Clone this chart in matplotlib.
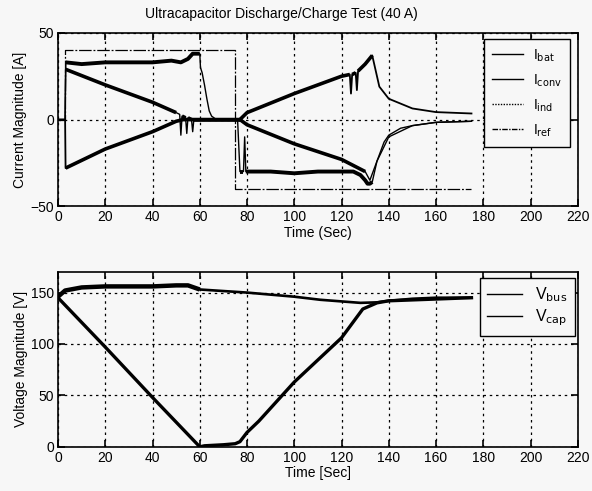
import matplotlib
matplotlib.use("Agg")
import matplotlib.pyplot as plt
import numpy as np

plt.rcParams['font.family'] = ['Liberation Sans', 'DejaVu Sans']

# ---- current test data ----
t_ref = [0, 3, 3, 75, 75, 175]
i_ref = [0, 0, 40, 40, -40, -40]

# converter current: the +/-33 A plateaus
t_conv = [0, 3, 3.3, 10, 20, 30, 40, 48, 52, 55, 57, 59, 60, 60.3, 61, 62, 63, 64, 65, 67,
          75, 76, 77, 78.5, 79, 79.5, 90, 100, 110, 120, 125, 128, 130, 131, 132, 133,
          135, 138, 140, 145, 150, 160, 175]
i_conv = [0, 0, 33, 32, 33, 33, 33, 34, 33, 35, 38, 38, 38, 30, 27, 20, 12, 5, 2, 0,
          0, 0, -30, -30, -10, -30, -30, -31, -30, -30, -30, -32, -35, -37, -37, -36,
          -24, -13, -9, -5, -3.5, -1.6, -1]

# battery current: falling ramp, then negative ramp while charging
t_bat = [0, 3, 3.2, 20, 40, 50, 51.5, 52, 52.5, 54, 54.5, 55, 56.5, 57, 57.5, 60,
         75, 77, 80, 100, 120, 130, 132, 135, 140, 150, 160, 175]
i_bat = [0, 0, 29, 20, 10, 4, 3, -9, 2, 1, -8, 1, 0, -7, 0, 0,
         0, 0, -3, -14, -23, -30, -35, -24, -10, -3.5, -1.6, -1]

# inductor current: rising ramp, then positive ramp while charging
t_ind = [0, 3, 3.2, 20, 40, 50, 53, 60, 75, 77, 80, 100, 120, 123.5, 124, 124.5,
         126, 126.5, 127, 130, 133, 136, 140, 150, 160, 175]
i_ind = [0, 0, -28, -17, -7, -1, 0, 0, 0, 0, 4, 15, 25, 26, 15, 26,
         27, 17, 28, 32, 37, 19, 12, 6.4, 4.3, 3.5]

# ---- voltage test data ----
t_bus = [0, 3, 10, 20, 30, 40, 50, 55, 60, 80, 100, 111, 128, 135, 140, 150, 160, 175]
v_bus = [146, 152, 155, 156, 156, 156, 157, 157, 153, 150, 146, 143, 140, 140.5, 142, 144, 145, 145]

t_cap = [0, 20, 40, 60, 62, 70, 75, 77, 80, 85, 100, 120, 129, 135, 140, 175]
v_cap = [145, 97, 48, 0, 1, 2, 3, 5, 14, 25, 63, 106, 134, 140, 142, 145]


def noisy(ax, t, y, windows, thick, thin=1.0, **kw):
    # thin trace everywhere, heavier over the noisy stretches
    t = np.asarray(t)
    y = np.asarray(y)
    line, = ax.plot(t, y, color='k', lw=thin, **kw)
    for a, b in windows:
        m = (t >= a) & (t <= b)
        ax.plot(t[m], y[m], color='k', lw=thick, solid_capstyle='butt')
    return line


bg = '#f7f7f7'
fig = plt.figure(figsize=(5.92, 4.91), dpi=100, facecolor=bg)

# top: currents
ax1 = fig.add_axes([0.098, 0.580, 0.878, 0.353], facecolor=bg)
noisy(ax1, t_bat, i_bat, [(3.2, 50), (52.5, 54), (55, 56.5), (57.5, 77), (77, 130)], 2.6,
      label=r'I$_{\mathrm{bat}}$')
noisy(ax1, t_conv, i_conv, [(3.3, 60), (77, 78.5), (79.5, 133)], 2.8,
      label=r'I$_{\mathrm{conv}}$')
noisy(ax1, t_ind, i_ind, [(3.2, 77), (77, 123.5), (124.5, 126), (127, 133)], 2.6,
      thin=1.3, label=r'I$_{\mathrm{ind}}$')
ax1.plot(t_ref, i_ref, color='k', lw=0.9, linestyle=(0, (10, 1.5, 1.5, 1.5)),
         label=r'I$_{\mathrm{ref}}$')
ax1.set_xlim(0, 220)
ax1.set_ylim(-50, 50)
ax1.set_xticks(range(0, 221, 20))
ax1.set_yticks([-50, 0, 50])
ax1.grid(True, color='k', linestyle=(0, (2, 3)), linewidth=0.9)
ax1.set_title('Ultracapacitor Discharge/Charge Test (40 A)', fontsize=10, pad=11, x=0.43)
ax1.set_xlabel('Time (Sec)', fontsize=10, labelpad=1)
ax1.set_ylabel('Current Magnitude [A]', fontsize=10, labelpad=2)
leg1 = ax1.legend(loc='upper right', bbox_to_anchor=(0.985, 0.965), borderaxespad=0,
                  fontsize=10, labelspacing=0.62, handlelength=2.2, borderpad=0.6,
                  handletextpad=0.7, fancybox=False, framealpha=1, facecolor=bg, edgecolor='k')
leg1.get_frame().set_linewidth(1.0)
styles = ['-', '-', (0, (1, 1)), (0, (4, 1, 1, 1))]
for h, ls in zip(leg1.legend_handles, styles):
    h.set_linewidth(1.0)
    h.set_linestyle(ls)

# bottom: voltages
ax2 = fig.add_axes([0.098, 0.090, 0.878, 0.356], facecolor=bg)
noisy(ax2, t_bus, v_bus, [(0, 60)], 3.2, thin=1.9, label=r'V$_{\mathrm{bus}}$')
ax2.plot(t_cap, v_cap, color='k', lw=2.4, label=r'V$_{\mathrm{cap}}$')
ax2.set_xlim(0, 220)
ax2.set_ylim(0, 170)
ax2.set_xticks(range(0, 221, 20))
ax2.set_yticks([0, 50, 100, 150])
ax2.grid(True, color='k', linestyle=(0, (2, 3)), linewidth=0.9)
ax2.set_xlabel('Time [Sec]', fontsize=10, labelpad=1)
ax2.set_ylabel('Voltage Magnitude [V]', fontsize=10, labelpad=2)
leg2 = ax2.legend(loc='upper right', bbox_to_anchor=(0.994, 0.966), borderaxespad=0,
                  fontsize=11.5, labelspacing=0.25, handlelength=2.2, borderpad=0.45,
                  handletextpad=0.8, fancybox=False, framealpha=1, facecolor=bg, edgecolor='k')
leg2.get_frame().set_linewidth(1.0)
for h in leg2.legend_handles:
    h.set_linewidth(1.0)

for ax in (ax1, ax2):
    ax.tick_params(direction='in', top=True, right=True, labelsize=10, length=5, width=1.2, pad=3)
    for s in ax.spines.values():
        s.set_linewidth(1.2)

fig.savefig('out.png', dpi=100, facecolor=bg)
